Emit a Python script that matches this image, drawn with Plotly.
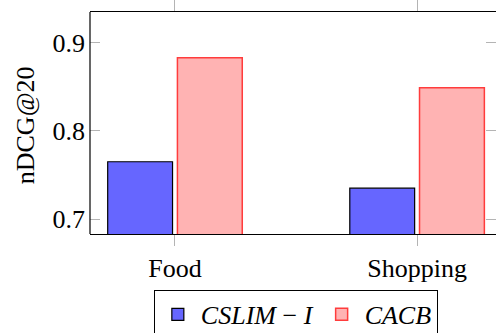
import plotly.graph_objects as go

categories = ["Food", "Shopping"]
cslim_i = [0.765, 0.735]
cacb = [0.883, 0.849]
y_ticks = [0.7, 0.8, 0.9]
y_tick_labels = ["0.7", "0.8", "0.9"]
y_title = "nDCG@20"

serif = "'Liberation Serif', 'Times New Roman', Times, serif"
tick_gray = "#b4b4b4"

fig = go.Figure()
fig.add_trace(go.Bar(
    x=categories, y=cslim_i,
    name="<i>CSLIM</i> − <i>I</i>",
    marker=dict(color="rgb(102,102,255)", line=dict(color="black", width=1.2)),
))
fig.add_trace(go.Bar(
    x=categories, y=cacb,
    name="<i>CACB</i>",
    marker=dict(color="rgb(255,179,179)", line=dict(color="rgb(255,60,60)", width=1.5)),
))

fig.update_layout(
    width=496, height=333,
    margin=dict(l=90, r=0, t=12, b=99, autoexpand=False),
    paper_bgcolor="white", plot_bgcolor="white",
    barmode="group", bargap=0.424, bargroupgap=0.07,
    font=dict(family=serif, size=26, color="black"),
    showlegend=True,
    legend=dict(
        orientation="h", x=0.507, xanchor="center", y=-0.252, yanchor="top",
        bordercolor="black", borderwidth=1, bgcolor="white",
        font=dict(family=serif, size=26),
        itemwidth=36, tracegroupgap=0,
    ),
)

fig.update_xaxes(
    type="category", range=[-0.351, 1.326],
    showline=True, linecolor="black", linewidth=1.2, mirror="ticks",
    ticks="outside", ticklen=11, tickcolor=tick_gray, tickwidth=1,
    showgrid=False, zeroline=False,
)
fig.update_yaxes(
    range=[0.683, 0.935],
    tickvals=y_ticks, ticktext=y_tick_labels,
    showline=False, mirror="ticks",
    ticks="inside", ticklen=10, tickcolor=tick_gray, tickwidth=1,
    showgrid=False, zeroline=False,
    ticklabelstandoff=4,
)

# rotated y-axis title
fig.add_annotation(text=y_title, textangle=-90, xref="paper", yref="paper",
                   x=-0.16, y=0.49, xanchor="center", yanchor="middle",
                   showarrow=False, font=dict(family=serif, size=26))

# left frame edge
fig.add_shape(type="line", xref="paper", yref="paper", x0=0, x1=0, y0=0, y1=1,
              line=dict(color="black", width=1.2), layer="above")

fig.write_html("out.html")
